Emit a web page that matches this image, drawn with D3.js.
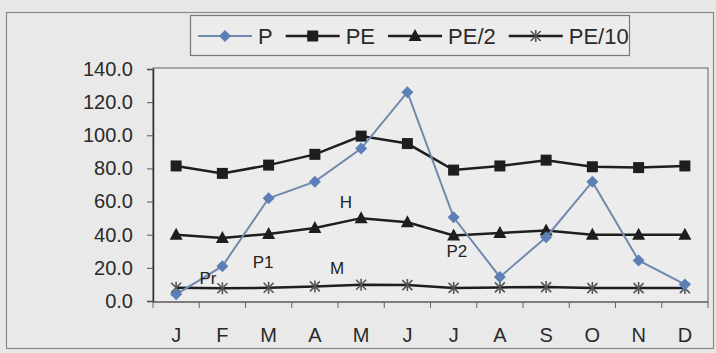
<!DOCTYPE html>
<html>
<head>
<meta charset="utf-8">
<script src="https://cdn.jsdelivr.net/npm/d3@7"></script>
<style>
  body { margin: 0; background: #e8e8e8; }
  svg { display: block; font-family: "Liberation Sans", Arial, sans-serif; }
</style>
</head>
<body>
<svg width="716" height="353"></svg>
<script>
// data
const months = ["J", "F", "M", "A", "M", "J", "J", "A", "S", "O", "N", "D"];
const P = [4, 21, 62, 72, 92, 126, 50.5, 14.5, 38.5, 72, 24.5, 10];
const PE = [81.5, 77, 82, 88.5, 99.5, 95, 79, 81.5, 85, 81, 80.5, 81.5];
const PE2 = [40, 38, 40.5, 44, 50, 47.5, 39.5, 41, 42.5, 40, 40, 40];
const PE10 = [8, 7.7, 8, 8.8, 9.8, 9.6, 7.9, 8.2, 8.4, 7.8, 7.8, 7.8];
const yTicks = [0, 20, 40, 60, 80, 100, 120, 140];
const notes = [
  { t: "Pr", i: 0.69, v: 10 },
  { t: "P1", i: 1.88, v: 20 },
  { t: "M", i: 3.48, v: 16 },
  { t: "H", i: 3.67, v: 56 },
  { t: "P2", i: 6.07, v: 26.5 }
];

const svg = d3.select("svg");
const W = 716, H = 353;
const plot = { left: 153, top: 68, right: 708, bottom: 302 };

// fond + cadre extérieur
svg.append("rect").attr("width", W).attr("height", H).attr("fill", "#e8e8e8");
svg.append("rect")
  .attr("x", 6.5).attr("y", 12.5).attr("width", 707).attr("height", 336)
  .attr("fill", "#e9e9e9").attr("stroke", "#8a8a8a").attr("stroke-width", 1.2);

// zone de tracé
svg.append("rect")
  .attr("x", plot.left).attr("y", plot.top)
  .attr("width", plot.right - plot.left).attr("height", plot.bottom - plot.top)
  .attr("fill", "#ececec").attr("stroke", "#7a7a7a").attr("stroke-width", 1.2);

const x = d3.scaleBand().domain(d3.range(12)).range([plot.left, plot.right]);
const y = d3.scaleLinear().domain([0, 140]).range([plot.bottom - 1, plot.top + 1]);
const cx = (i) => x(i) + x.bandwidth() / 2;

// axe y
const yAxis = svg.append("g")
  .attr("transform", `translate(${plot.left},0)`)
  .call(d3.axisLeft(y).tickValues(yTicks).tickFormat(d3.format(".1f")).tickSize(6).tickPadding(14));
yAxis.select(".domain").attr("stroke", "#333").attr("stroke-width", 1.5);
yAxis.selectAll(".tick line").attr("stroke", "#555");
yAxis.selectAll("text").attr("font-size", 20).attr("fill", "#2a2a2a")
  .attr("font-family", "Liberation Sans, Arial, sans-serif");

// axe x : graduations entre les catégories
svg.append("line")
  .attr("x1", plot.left).attr("x2", plot.right)
  .attr("y1", plot.bottom).attr("y2", plot.bottom)
  .attr("stroke", "#555").attr("stroke-width", 1.2);
svg.append("g").selectAll("line")
  .data(d3.range(13))
  .join("line")
  .attr("x1", (d) => plot.left + d * x.step()).attr("x2", (d) => plot.left + d * x.step())
  .attr("y1", plot.bottom).attr("y2", plot.bottom + 6)
  .attr("stroke", "#666");
svg.append("g").selectAll("text")
  .data(months)
  .join("text")
  .attr("x", (d, i) => cx(i)).attr("y", 342)
  .attr("text-anchor", "middle")
  .attr("font-size", 20).attr("fill", "#2a2a2a")
  .text((d) => d);

// séries
const line = d3.line().x((d, i) => cx(i)).y((d) => y(d));
const series = [
  { name: "P", data: P, stroke: "#7189ad", width: 2, marker: "diamond", fill: "#5b7fb6" },
  { name: "PE", data: PE, stroke: "#1e1e1e", width: 2.5, marker: "square", fill: "#1e1e1e" },
  { name: "PE/2", data: PE2, stroke: "#1e1e1e", width: 2.5, marker: "triangle", fill: "#1e1e1e" },
  { name: "PE/10", data: PE10, stroke: "#1e1e1e", width: 2.5, marker: "star", fill: "#555" }
];

function drawMarker(g, type, fill) {
  if (type === "diamond") {
    g.append("path").attr("d", "M0,-6L6,0L0,6L-6,0Z").attr("fill", fill);
  } else if (type === "square") {
    g.append("rect").attr("x", -5.5).attr("y", -5.5).attr("width", 11).attr("height", 11).attr("fill", fill);
  } else if (type === "triangle") {
    g.append("path").attr("d", "M0,-7L6.5,5L-6.5,5Z").attr("fill", fill);
  } else {
    g.append("path").attr("d", "M-5,-5L5,5M-5,5L5,-5M0,-6L0,6")
      .attr("stroke", fill).attr("stroke-width", 1.6).attr("fill", "none");
  }
}

// ordre de dessin : P en dessous
series.slice().reverse().forEach((s) => {
  svg.append("path")
    .datum(s.data)
    .attr("fill", "none")
    .attr("stroke", s.stroke)
    .attr("stroke-width", s.width)
    .attr("d", line);
  s.data.forEach((v, i) => {
    const g = svg.append("g").attr("transform", `translate(${cx(i)},${y(v)})`);
    drawMarker(g, s.marker, s.fill);
  });
});

// annotations
svg.append("g").selectAll("text")
  .data(notes)
  .join("text")
  .attr("x", (d) => plot.left + d.i * x.step() + x.step() / 2)
  .attr("y", (d) => y(d.v))
  .attr("text-anchor", "middle")
  .attr("font-size", 17).attr("fill", "#222")
  .text((d) => d.t);

// légende
const legend = svg.append("g");
legend.append("rect")
  .attr("x", 190.5).attr("y", 15.5).attr("width", 439).attr("height", 40)
  .attr("fill", "#ececec").attr("stroke", "#777").attr("stroke-width", 1.2);
let lx = 198;
series.forEach((s) => {
  const item = legend.append("g");
  item.append("line")
    .attr("x1", lx).attr("x2", lx + 54).attr("y1", 36).attr("y2", 36)
    .attr("stroke", s.stroke).attr("stroke-width", s.width);
  drawMarker(item.append("g").attr("transform", `translate(${lx + 27},36)`), s.marker, s.fill);
  const t = item.append("text")
    .attr("x", lx + 60).attr("y", 44)
    .attr("font-size", 22).attr("fill", "#2a2a2a")
    .text(s.name);
  lx = lx + 60 + t.node().getComputedTextLength() + 13;
});
</script>
</body>
</html>
